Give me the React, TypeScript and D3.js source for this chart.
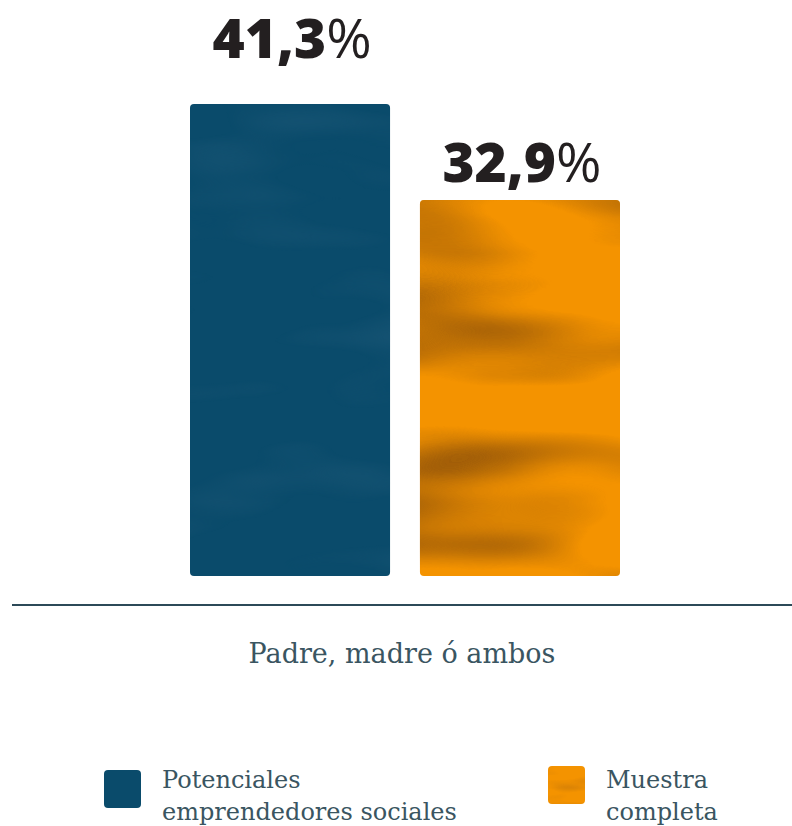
import React from "react";
import * as d3 from "d3";

// data
const category = "Padre, madre ó ambos";
const series = ["Potenciales emprendedores sociales", "Muestra completa"];
const values = [41.3, 32.9];
const valueLabels = ["41,3", "32,9"];
const legendLines = [["Potenciales", "emprendedores sociales"], ["Muestra", "completa"]];
const colors = ["#0a4b6b", "#f49300"];

const W = 792;
const H = 826;
const baseY = 576;

export default function App() {
  const x = d3.scaleBand<string>().domain(series).range([190, 620]).paddingInner(0.13);
  const y = d3.scaleLinear().domain([0, 41.3]).range([baseY, 104]);
  const tex = ["tex-blue", "tex-orange"];
  const texSmall = ["tex-blue", "tex-orange-sm"];
  const serif = "'DejaVu Serif', serif";

  return (
    <svg width={W} height={H} style={{ position: "absolute", left: 0, top: 0 }}>
      <defs>
        <filter id="tex-orange" x="0" y="0" width="1" height="1" colorInterpolationFilters="sRGB">
          <feTurbulence type="fractalNoise" baseFrequency="0.004 0.016" numOctaves="2" seed="11" result="n" />
          <feColorMatrix in="n" type="matrix"
            values="0 0 0 0 0.62  0 0 0 0 0.36  0 0 0 0 0.03  2.6 0 0 0 -1.05" result="dark" />
          <feComposite in="dark" in2="SourceGraphic" operator="in" result="d2" />
          <feMerge><feMergeNode in="SourceGraphic" /><feMergeNode in="d2" /></feMerge>
        </filter>
        <filter id="tex-orange-sm" x="0" y="0" width="1" height="1" colorInterpolationFilters="sRGB">
          <feTurbulence type="fractalNoise" baseFrequency="0.02 0.08" numOctaves="2" seed="5" result="n" />
          <feColorMatrix in="n" type="matrix"
            values="0 0 0 0 0.7  0 0 0 0 0.42  0 0 0 0 0.05  1.2 0 0 0 -0.55" result="dark" />
          <feComposite in="dark" in2="SourceGraphic" operator="in" result="d2" />
          <feMerge><feMergeNode in="SourceGraphic" /><feMergeNode in="d2" /></feMerge>
        </filter>
        <filter id="tex-blue" x="0" y="0" width="1" height="1" colorInterpolationFilters="sRGB">
          <feTurbulence type="fractalNoise" baseFrequency="0.006 0.02" numOctaves="2" seed="3" result="n" />
          <feColorMatrix in="n" type="matrix"
            values="0 0 0 0 0.16  0 0 0 0 0.38  0 0 0 0 0.5  1.0 0 0 0 -0.5" result="lt" />
          <feComposite in="lt" in2="SourceGraphic" operator="in" result="l2" />
          <feMerge><feMergeNode in="SourceGraphic" /><feMergeNode in="l2" /></feMerge>
        </filter>
      </defs>

      {series.map((s, i) => {
        const top = y(values[i]);
        return (
          <g key={s}>
            <rect x={x(s)} y={top} width={x.bandwidth()} height={baseY - top}
              rx={4} fill={colors[i]} filter={`url(#${tex[i]})`} />
            <text x={(x(s) as number) + x.bandwidth() / 2 + 2} y={i === 0 ? top - 46 : top - 18}
              textAnchor="middle" fontFamily="'Open Sans', sans-serif" fontSize={55} fill="#231f20">
              <tspan fontWeight={800}>{valueLabels[i]}</tspan>
              <tspan fontWeight={400}>%</tspan>
            </text>
          </g>
        );
      })}

      <line x1={12} x2={W} y1={605} y2={605} stroke="#2c4a58" strokeWidth={2} />
      <text x={402} y={663} textAnchor="middle" fontFamily={serif} fontSize={27} fill="#3a5561">
        {category}
      </text>

      {series.map((s, i) => {
        const lx = i === 0 ? 104 : 548;
        const ly = i === 0 ? 770 : 766;
        return (
          <g key={"lg" + s}>
            <rect x={lx} y={ly} width={37} height={38} rx={4} fill={colors[i]} filter={`url(#${texSmall[i]})`} />
            {legendLines[i].map((t, j) => (
              <text key={t} x={lx + 58} y={788 + j * 32} fontFamily={serif} fontSize={24} fill="#3a5561">
                {t}
              </text>
            ))}
          </g>
        );
      })}
    </svg>
  );
}
